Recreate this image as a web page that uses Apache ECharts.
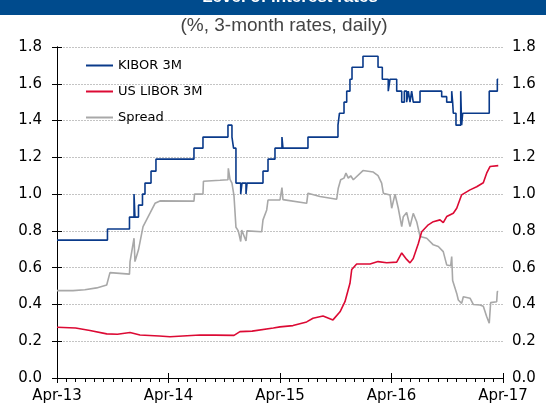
<!DOCTYPE html>
<html>
<head>
<meta charset="utf-8">
<script src="https://cdn.jsdelivr.net/npm/echarts@6/dist/echarts.min.js"></script>
<style>
  html, body { margin: 0; padding: 0; background: #fff; }
  #chart { width: 546px; height: 406px; }
</style>
</head>
<body>
<div id="chart"></div>
<script>
// x values are months since Apr-2013
var xTickLabels = ['Apr-13', 'Apr-14', 'Apr-15', 'Apr-16', 'Apr-17']

// KIBOR 3M, change points (step line)
var kiborData = [
  [0, 0.75], [5.43, 0.81], [7.80, 0.875], [8.29, 1.0], [8.39, 0.875], [8.77, 0.94],
  [9.20, 1.0], [9.47, 1.06], [10.12, 1.125], [10.65, 1.19], [14.74, 1.25], [15.71, 1.31],
  [18.40, 1.375], [18.83, 1.31], [19.00, 1.25], [19.26, 1.06], [19.77, 1.0], [19.91, 1.06],
  [20.34, 1.0], [20.45, 1.06], [22.17, 1.125], [22.71, 1.19], [23.46, 1.25], [24.21, 1.31],
  [24.32, 1.25], [27.01, 1.31], [30.24, 1.375], [30.40, 1.44], [30.89, 1.5], [31.18, 1.56],
  [31.53, 1.625], [31.75, 1.69], [32.93, 1.75], [34.55, 1.69], [35.01, 1.625], [35.65, 1.56],
  [35.84, 1.625], [36.56, 1.56], [37.10, 1.5], [37.38, 1.56], [37.63, 1.5], [37.81, 1.56],
  [37.99, 1.5], [38.17, 1.56], [38.34, 1.5], [39.07, 1.56], [41.40, 1.53], [41.94, 1.5],
  [42.48, 1.56], [42.58, 1.5], [42.65, 1.44], [42.94, 1.375], [43.45, 1.56], [43.55, 1.375],
  [43.66, 1.44], [46.52, 1.56], [47.39, 1.625], [47.49, 1.625]
]

// US LIBOR 3M
var liborData = [
  [0, 0.276], [2.0, 0.272], [3.55, 0.258], [5.35, 0.24], [6.5, 0.238], [7.86, 0.247],
  [8.93, 0.234], [11.0, 0.228], [12.16, 0.224], [14.0, 0.23], [15.39, 0.234], [17.0, 0.233],
  [19.05, 0.232], [19.69, 0.252], [21.0, 0.255], [23.28, 0.272], [24.0, 0.278], [25.40, 0.285],
  [26.87, 0.305], [27.55, 0.325], [28.63, 0.337], [29.70, 0.316], [30.46, 0.36], [30.99, 0.415],
  [31.53, 0.515], [31.72, 0.59], [32.25, 0.62], [33.69, 0.62], [34.55, 0.633], [35.48, 0.627],
  [36.56, 0.63], [37.10, 0.68], [37.63, 0.645], [37.99, 0.626], [38.34, 0.65], [38.88, 0.73],
  [39.25, 0.795], [39.96, 0.833], [40.50, 0.85], [41.22, 0.86], [41.57, 0.845], [41.94, 0.878],
  [42.65, 0.896], [43.02, 0.923], [43.55, 0.996], [44.45, 1.023], [45.17, 1.04], [45.88, 1.062],
  [46.24, 1.114], [46.60, 1.15], [47.49, 1.155]
]

// Spread
var spreadData = [
  [0, 0.475], [1.72, 0.475], [3.0, 0.48], [4.27, 0.49], [5.35, 0.506], [5.70, 0.573],
  [7.80, 0.565], [7.86, 0.633], [8.29, 0.76], [8.39, 0.633], [8.77, 0.697], [9.26, 0.823],
  [10.01, 0.896], [10.55, 0.95], [11.08, 0.963], [14.74, 0.962], [14.80, 1.0], [15.71, 1.0],
  [15.76, 1.07], [17.54, 1.075], [18.40, 1.078], [18.44, 1.14], [18.62, 1.08], [18.83, 1.06],
  [19.05, 0.99], [19.26, 0.82], [19.51, 0.80], [19.77, 0.742], [19.88, 0.805], [20.34, 0.745],
  [20.45, 0.80], [22.03, 0.795], [22.17, 0.86], [22.57, 0.914], [22.71, 0.968], [24.0, 0.968],
  [24.21, 1.035], [24.32, 0.97], [26.87, 0.95], [27.01, 1.005], [28.30, 0.987], [30.10, 0.972],
  [30.27, 1.032], [30.53, 1.078], [30.89, 1.087], [31.10, 1.114], [31.35, 1.087], [31.61, 1.1],
  [31.89, 1.078], [32.93, 1.128], [34.04, 1.12], [34.55, 1.1], [34.94, 1.06], [35.12, 1.005],
  [35.84, 0.995], [36.02, 0.923], [36.38, 1.0], [36.73, 0.923], [37.10, 0.823], [37.27, 0.877],
  [37.63, 0.9], [37.99, 0.823], [38.34, 0.895], [38.71, 0.85], [39.07, 0.77], [39.79, 0.76],
  [40.50, 0.724], [41.04, 0.715], [41.57, 0.687], [41.94, 0.615], [42.37, 0.61], [42.48, 0.66],
  [42.58, 0.53], [43.02, 0.46], [43.19, 0.424], [43.55, 0.406], [43.73, 0.442], [44.45, 0.434],
  [44.80, 0.40], [45.52, 0.397], [45.88, 0.39], [46.24, 0.334], [46.52, 0.298], [46.67, 0.41],
  [47.32, 0.415], [47.39, 0.47], [47.49, 0.47]
]

var fontMain = 'DejaVu Sans'
var chart = echarts.init(document.getElementById('chart'))

var yAxisBase = {
  type: 'value',
  min: 0,
  max: 1.8,
  interval: 0.2,
  axisLine: { show: true, lineStyle: { color: '#000', width: 1 } },
  axisTick: { show: true, length: 5, lineStyle: { color: '#000' } },
  axisLabel: {
    color: '#000',
    fontFamily: fontMain,
    fontSize: 15,
    formatter: function (v) { return v.toFixed(1) }
  }
}

var option = {
  animation: false,
  backgroundColor: '#fff',
  graphic: [
    { type: 'rect', shape: { x: 0, y: 0, width: 546, height: 15 }, style: { fill: '#004b8d' } },
    {
      type: 'text',
      style: {
        x: 290, y: 6, text: 'Level of interest rates', fill: '#fff',
        font: 'bold 17px "Liberation Sans"', textAlign: 'center', textVerticalAlign: 'bottom'
      }
    },
    {
      type: 'text',
      style: {
        x: 284, y: 26, text: '(%, 3-month rates, daily)', fill: '#444',
        font: '19px "Liberation Sans Narrow", "Liberation Sans"', textAlign: 'center', textVerticalAlign: 'middle'
      }
    }
  ],
  grid: { left: 57, right: 43, top: 47, bottom: 28 },
  legend: {
    orient: 'vertical',
    left: 80,
    top: 54,
    itemWidth: 27,
    itemHeight: 14,
    itemGap: 13,
    itemStyle: { opacity: 0 },
    textStyle: { fontFamily: fontMain, fontSize: 13, color: '#000' },
    data: ['KIBOR 3M', 'US LIBOR 3M', 'Spread']
  },
  xAxis: [
    {
      type: 'value',
      position: 'bottom',
      min: 0,
      max: 48,
      interval: 12,
      splitLine: { show: false },
      axisLine: { show: true, lineStyle: { color: '#000', width: 1 } },
      axisTick: { show: true, length: 5, lineStyle: { color: '#000' } },
      minorTick: { show: true, splitNumber: 12, length: 4, lineStyle: { color: '#000' } },
      axisLabel: {
        color: '#000',
        fontFamily: fontMain,
        fontSize: 15,
        margin: 11,
        formatter: function (v) { return xTickLabels[Math.round(v / 12)] }
      }
    },
    {
      type: 'value',
      position: 'bottom',
      min: 0,
      max: 48,
      interval: 12,
      splitLine: { show: false },
      axisLine: { show: false },
      axisTick: { show: true, inside: true, length: 5, lineStyle: { color: '#000' } },
      axisLabel: { show: false }
    }
  ],
  yAxis: [
    Object.assign({}, yAxisBase, {
      position: 'left',
      splitLine: { show: true, lineStyle: { color: '#c4c4c4', type: [2, 1], width: 1 } },
      axisLabel: Object.assign({}, yAxisBase.axisLabel, { margin: 15 })
    }),
    Object.assign({}, yAxisBase, {
      position: 'right',
      splitLine: { show: false },
      axisLabel: Object.assign({}, yAxisBase.axisLabel, { margin: 9 })
    })
  ],
  series: [
    {
      name: 'KIBOR 3M',
      type: 'line',
      step: 'end',
      symbol: 'none',
      data: kiborData,
      lineStyle: { color: '#0a3a8a', width: 1.6 },
      itemStyle: { color: '#0a3a8a' },
      z: 4
    },
    {
      name: 'US LIBOR 3M',
      type: 'line',
      symbol: 'none',
      data: liborData,
      lineStyle: { color: '#dc0a34', width: 1.6 },
      itemStyle: { color: '#dc0a34' },
      z: 3
    },
    {
      name: 'Spread',
      type: 'line',
      symbol: 'none',
      data: spreadData,
      lineStyle: { color: '#a8a8a8', width: 1.6 },
      itemStyle: { color: '#a8a8a8' },
      z: 2
    }
  ]
}

chart.setOption(option)
</script>
</body>
</html>
